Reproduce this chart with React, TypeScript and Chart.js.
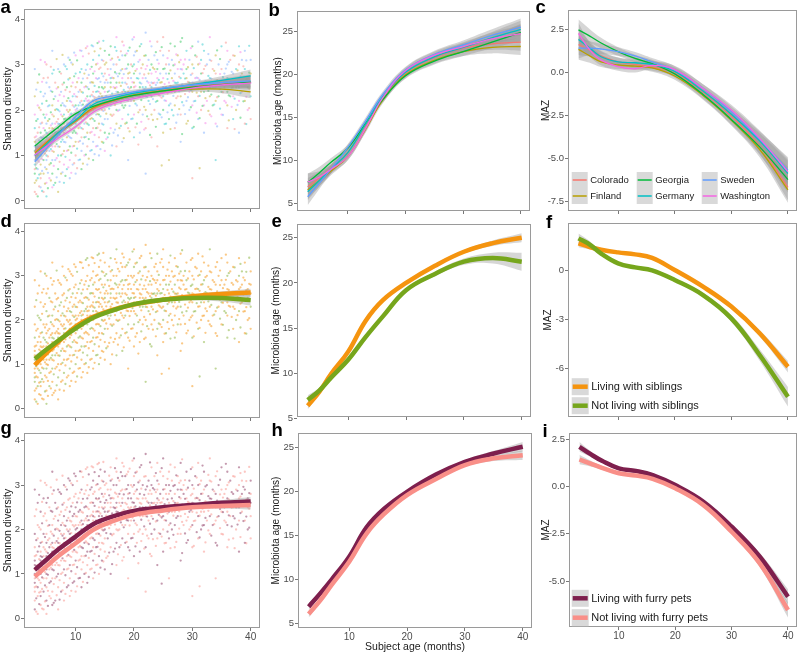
import React, { useEffect, useRef } from 'react';
import { Chart, registerables } from 'chart.js';
Chart.register(...registerables);

const FONT = '"Liberation Sans", Arial, Helvetica, sans-serif';

// ---------- DATA ----------
const ages = [3, 5, 7, 10, 13, 16, 20, 25, 30, 35, 40];
const xTickValues = [10, 20, 30, 40];

const countries = ['Colorado', 'Finland', 'Georgia', 'Germany', 'Sweden', 'Washington'];
const countryColors = ['#F8766D', '#B79F00', '#00BA38', '#00BFC4', '#619CFF', '#F564E3'];

const shannonColorado = [1.08, 1.3, 1.5, 1.75, 2.02, 2.18, 2.32, 2.43, 2.52, 2.57, 2.62];
const shannonFinland = [1.05, 1.28, 1.5, 1.76, 2.05, 2.2, 2.33, 2.42, 2.46, 2.46, 2.4];
const shannonGeorgia = [1.21, 1.42, 1.62, 1.92, 2.08, 2.2, 2.32, 2.42, 2.5, 2.56, 2.62];
const shannonGermany = [1.0, 1.25, 1.5, 1.78, 2.12, 2.25, 2.37, 2.47, 2.56, 2.65, 2.75];
const shannonSweden = [0.86, 1.15, 1.45, 1.85, 2.2, 2.3, 2.4, 2.48, 2.55, 2.6, 2.64];
const shannonWashington = [1.01, 1.2, 1.38, 1.63, 1.95, 2.12, 2.25, 2.37, 2.48, 2.55, 2.59];
const shannonCountryBand = [0.13, 0.08, 0.06, 0.05, 0.05, 0.05, 0.05, 0.05, 0.06, 0.09, 0.14];

const microColorado = [6.9, 7.9, 9.0, 10.9, 14.0, 17.2, 20.1, 21.9, 23.0, 23.5, 23.7];
const microFinland = [6.5, 7.6, 8.7, 10.4, 13.5, 16.9, 19.9, 21.6, 22.6, 23.1, 23.2];
const microGeorgia = [7.4, 8.5, 9.7, 11.4, 14.2, 17.0, 19.8, 21.5, 22.6, 23.7, 24.85];
const microGermany = [6.3, 7.6, 8.9, 10.9, 14.1, 17.3, 20.2, 22.0, 23.1, 24.2, 25.2];
const microSweden = [5.73, 7.3, 8.9, 11.5, 14.5, 17.6, 20.5, 22.3, 23.4, 24.5, 25.45];
const microWashington = [7.45, 8.0, 8.9, 10.4, 13.6, 17.2, 20.4, 22.2, 23.2, 24.1, 24.7];
const microCountryBand = [1.0, 0.7, 0.5, 0.4, 0.4, 0.35, 0.35, 0.4, 0.5, 0.7, 1.0];

const mazColorado = [1.6, 1.3, 0.95, 0.6, 0.45, 0.3, -0.05, -1.15, -2.55, -4.3, -6.7];
const mazFinland = [1.33, 0.95, 0.6, 0.42, 0.35, 0.25, -0.22, -1.35, -2.8, -4.5, -6.85];
const mazGeorgia = [2.46, 2.1, 1.7, 1.2, 0.8, 0.5, -0.1, -1.3, -2.75, -4.35, -6.25];
const mazGermany = [1.9, 1.4, 0.9, 0.6, 0.55, 0.45, 0.05, -1.1, -2.45, -4.0, -5.9];
const mazSweden = [1.4, 1.4, 1.35, 1.2, 0.95, 0.6, 0.13, -0.95, -2.3, -3.9, -5.7];
const mazWashington = [2.26, 1.3, 0.7, 0.33, 0.2, 0.4, 0.15, -0.95, -2.2, -3.85, -5.8];
const mazCountryBand = [0.6, 0.4, 0.3, 0.25, 0.22, 0.22, 0.22, 0.25, 0.3, 0.45, 0.75];

const siblingLabels = ['Living with siblings', 'Not living with siblings'];
const siblingColors = ['#F5940F', '#76A61C'];
const shannonSib = [0.98, 1.25, 1.5, 1.85, 2.07, 2.22, 2.35, 2.46, 2.54, 2.59, 2.62];
const shannonNoSib = [1.12, 1.33, 1.53, 1.81, 2.05, 2.2, 2.36, 2.46, 2.5, 2.5, 2.45];
const shannonSibBand = [0.06, 0.04, 0.03, 0.03, 0.03, 0.03, 0.03, 0.03, 0.04, 0.06, 0.09];
const shannonNoSibBand = [0.08, 0.05, 0.04, 0.03, 0.03, 0.03, 0.03, 0.04, 0.05, 0.08, 0.12];
const microSib = [6.42, 7.95, 9.9, 12.4, 15.8, 18.1, 20.0, 21.9, 23.45, 24.4, 25.0];
const microNoSib = [7.05, 8.1, 9.5, 11.5, 14.0, 16.3, 19.2, 21.0, 22.35, 22.75, 22.35];
const microSibBand = [0.4, 0.25, 0.2, 0.15, 0.15, 0.15, 0.15, 0.15, 0.2, 0.3, 0.5];
const microNoSibBand = [0.5, 0.3, 0.25, 0.2, 0.2, 0.2, 0.2, 0.25, 0.35, 0.6, 1.0];
const mazSib = [1.68, 1.45, 1.28, 1.12, 1.0, 0.78, 0.04, -0.98, -2.2, -3.83, -5.88];
const mazNoSib = [1.98, 1.6, 1.05, 0.45, 0.2, 0.02, -0.57, -1.49, -2.92, -5.16, -7.72];
const mazSibBand = [0.25, 0.15, 0.1, 0.08, 0.08, 0.08, 0.08, 0.1, 0.12, 0.2, 0.35];
const mazNoSibBand = [0.3, 0.2, 0.12, 0.1, 0.1, 0.1, 0.1, 0.12, 0.2, 0.35, 0.6];

const petLabels = ['Living with furry pets', 'Not living with furry pets'];
const petColors = ['#7E1F4D', '#F98F88'];
const shannonPet = [1.09, 1.32, 1.55, 1.84, 2.12, 2.28, 2.42, 2.5, 2.55, 2.6, 2.63];
const shannonNoPet = [0.94, 1.17, 1.4, 1.69, 1.99, 2.17, 2.33, 2.43, 2.5, 2.53, 2.55];
const shannonPetBand = [0.06, 0.04, 0.03, 0.03, 0.03, 0.03, 0.03, 0.03, 0.04, 0.06, 0.1];
const microPet = [6.89, 8.4, 10.0, 12.57, 15.9, 18.0, 19.95, 21.9, 23.36, 24.3, 25.07];
const microNoPet = [6.06, 7.6, 9.4, 12.0, 15.2, 17.4, 19.58, 21.4, 22.99, 23.75, 24.1];
const microPetBand = [0.4, 0.25, 0.2, 0.15, 0.15, 0.15, 0.15, 0.15, 0.2, 0.3, 0.55];
const mazPet = [2.09, 1.7, 1.35, 0.95, 0.82, 0.6, 0.07, -0.81, -2.13, -3.72, -5.83];
const mazNoPet = [1.42, 1.2, 0.98, 0.69, 0.57, 0.4, -0.1, -0.99, -2.4, -4.07, -6.53];
const mazPetBand = [0.25, 0.15, 0.1, 0.08, 0.08, 0.08, 0.08, 0.1, 0.12, 0.2, 0.4];

const shannonTicks = [0, 1, 2, 3, 4];
const microTicks = [5, 10, 15, 20, 25];
const mazTicksC = [2.5, 0, -2.5, -5, -7.5];
const mazTicksF = [0, -3, -6];
const mazTicksI = [2.5, 0, -2.5, -5];

// individual samples (subject age in months, Shannon diversity) — visit set 1
const scatterMonths = [
  3, 3.5, 4, 4.5, 5, 5.5, 6, 6.5, 7, 7.5, 8, 8.5, 9, 9.5, 10, 10.5, 11, 11.5, 12, 12.5,
  13, 13.5, 14, 14.5, 15, 15.5, 16, 16.5, 17, 17.5, 18, 18.5, 19, 19.5, 20, 20.5, 21, 21.5,
  22, 22.5, 23, 23.5, 24, 24.5, 25, 25.5, 26, 26.5, 27, 27.5, 28, 28.5, 29, 29.5, 30, 30.5,
  31, 31.5, 32, 32.5, 33, 33.5, 34, 34.5, 35, 35.5, 36, 36.5, 37, 37.5, 38, 38.5, 39, 39.5, 40,
];
const scatterShannon = [
  [0.2, 0.4, 0.6, 0.8, 0.9, 1.0, 1.1, 1.2, 1.4, 1.6, 1.9, 2.3, 2.9, 0.7, 1.3],
  [0.1, 0.5, 0.7, 0.9, 1.0, 1.2, 1.5, 1.8, 2.1, 2.6],
  [0.3, 0.5, 0.8, 1.0, 1.1, 1.2, 1.3, 1.5, 1.7, 2.0, 2.4, 3.1, 0.6, 1.4],
  [0.2, 0.6, 0.9, 1.1, 1.4, 1.6, 1.9, 2.3, 2.7],
  [0.1, 0.4, 0.7, 0.9, 1.1, 1.3, 1.4, 1.5, 1.7, 1.9, 2.2, 2.6, 3.0, 1.0],
  [0.5, 0.8, 1.1, 1.3, 1.6, 1.8, 2.1, 2.5],
  [0.3, 0.6, 0.9, 1.1, 1.3, 1.5, 1.6, 1.7, 1.9, 2.1, 2.4, 2.8, 3.3, 1.2],
  [0.4, 0.9, 1.2, 1.5, 1.7, 2.0, 2.3, 2.6],
  [0.2, 0.7, 1.0, 1.2, 1.4, 1.6, 1.7, 1.8, 2.0, 2.2, 2.5, 2.9, 1.5],
  [0.6, 1.0, 1.3, 1.6, 1.9, 2.1, 2.4, 2.8],
  [0.4, 0.8, 1.1, 1.3, 1.5, 1.7, 1.8, 1.9, 2.1, 2.3, 2.6, 3.0, 1.6],
  [0.7, 1.1, 1.4, 1.7, 2.0, 2.2, 2.5, 2.9],
  [0.5, 0.9, 1.2, 1.4, 1.6, 1.8, 1.9, 2.0, 2.2, 2.4, 2.7, 3.1, 1.7],
  [0.8, 1.2, 1.5, 1.8, 2.1, 2.3, 2.6, 3.0],
  [0.6, 1.0, 1.3, 1.5, 1.7, 1.9, 2.0, 2.1, 2.3, 2.5, 2.8, 3.2, 1.8],
  [0.9, 1.3, 1.6, 1.9, 2.1, 2.4, 2.7],
  [0.7, 1.1, 1.4, 1.6, 1.8, 2.0, 2.1, 2.2, 2.4, 2.6, 2.9, 3.3],
  [1.0, 1.4, 1.7, 2.0, 2.2, 2.5, 2.8],
  [0.8, 1.2, 1.5, 1.7, 1.9, 2.1, 2.2, 2.3, 2.5, 2.7, 3.0, 3.4, 2.0],
  [1.1, 1.5, 1.8, 2.1, 2.3, 2.6, 2.9],
  [0.9, 1.3, 1.6, 1.8, 2.0, 2.2, 2.3, 2.4, 2.6, 2.8, 3.1, 3.4],
  [1.2, 1.6, 1.9, 2.2, 2.4, 2.7, 3.0],
  [1.0, 1.4, 1.7, 1.9, 2.1, 2.3, 2.4, 2.5, 2.7, 2.9, 3.2, 3.5],
  [1.3, 1.7, 2.0, 2.3, 2.5, 2.8, 3.1],
  [1.1, 1.5, 1.8, 2.0, 2.2, 2.4, 2.5, 2.6, 2.8, 3.0, 3.3],
  [1.4, 1.8, 2.1, 2.4, 2.6, 2.9],
  [1.0, 1.6, 1.9, 2.1, 2.3, 2.5, 2.6, 2.7, 2.9, 3.1, 3.4],
  [1.5, 1.9, 2.2, 2.5, 2.7, 3.0],
  [1.2, 1.7, 2.0, 2.2, 2.4, 2.5, 2.6, 2.8, 3.0, 3.3, 3.6],
  [1.6, 2.0, 2.3, 2.6, 2.8, 3.1],
  [1.3, 1.8, 2.1, 2.3, 2.4, 2.6, 2.7, 2.9, 3.2, 3.5],
  [1.7, 2.1, 2.4, 2.6, 2.9, 3.2],
  [0.9, 1.6, 1.9, 2.2, 2.4, 2.5, 2.7, 2.8, 3.0, 3.3],
  [1.8, 2.2, 2.5, 2.7, 3.0],
  [1.4, 1.9, 2.2, 2.4, 2.5, 2.6, 2.8, 3.0, 3.2, 3.6],
  [1.7, 2.1, 2.4, 2.7, 2.9, 3.3],
  [1.5, 2.0, 2.3, 2.5, 2.6, 2.8, 3.1, 3.4],
  [1.9, 2.3, 2.5, 2.7, 3.0],
  [0.6, 1.6, 2.0, 2.3, 2.5, 2.7, 2.9, 3.2, 3.7],
  [1.8, 2.2, 2.6, 2.8, 3.1],
  [1.4, 1.9, 2.3, 2.5, 2.6, 2.8, 3.0, 3.4],
  [2.0, 2.4, 2.6, 2.9, 3.2],
  [1.2, 1.8, 2.2, 2.4, 2.6, 2.7, 2.9, 3.1, 3.5],
  [1.9, 2.3, 2.6, 2.8, 3.3],
  [1.5, 2.0, 2.3, 2.5, 2.7, 2.9, 3.2, 3.6],
  [1.7, 2.2, 2.5, 2.8, 3.0],
  [0.9, 1.8, 2.1, 2.4, 2.6, 2.8, 3.0, 3.3],
  [2.0, 2.4, 2.7, 3.1],
  [1.6, 2.1, 2.4, 2.6, 2.8, 3.0, 3.4],
  [1.9, 2.3, 2.6, 2.9, 3.2],
  [1.3, 1.9, 2.3, 2.5, 2.7, 2.9, 3.1, 3.5],
  [2.1, 2.5, 2.8, 3.0],
  [1.7, 2.2, 2.5, 2.7, 2.9, 3.3],
  [2.0, 2.4, 2.6, 3.1],
  [0.5, 1.6, 2.1, 2.4, 2.6, 2.8, 3.0, 3.4],
  [2.2, 2.5, 2.7, 3.2],
  [1.8, 2.3, 2.5, 2.7, 3.0, 3.5],
  [2.0, 2.4, 2.8, 3.1],
  [1.5, 2.1, 2.4, 2.6, 2.9, 3.3],
  [2.2, 2.6, 3.0],
  [1.9, 2.3, 2.5, 2.7, 3.1, 3.6],
  [2.1, 2.5, 2.9],
  [0.9, 1.7, 2.2, 2.5, 2.8, 3.2],
  [2.3, 2.6, 3.0],
  [1.9, 2.4, 2.6, 2.9, 3.4],
  [2.2, 2.5, 2.8],
  [1.6, 2.1, 2.4, 2.7, 3.0, 3.3],
  [2.3, 2.6, 3.1],
  [1.8, 2.3, 2.5, 2.8, 3.2],
  [2.0, 2.5, 2.9],
  [1.5, 2.2, 2.5, 2.7, 3.0, 3.4],
  [2.4, 2.8, 3.1],
  [1.7, 2.2, 2.6, 2.9, 3.3],
  [2.0, 2.5, 2.7],
  [1.8, 2.3, 2.6, 2.8, 3.1],
];
// visit set 2
const scatterMonths2 = [
  3.25, 3.75, 4.25, 4.75, 5.25, 5.75, 6.25, 6.75, 7.25, 7.75, 8.25, 8.75, 9.25, 9.75, 10.25, 10.75,
  11.25, 11.75, 12.25, 12.75, 13.25, 13.75, 14.25, 14.75, 15.25, 15.75, 16.25, 16.75, 17.25, 17.75,
  18.25, 18.75, 19.25, 19.75, 20.25, 20.75, 21.25, 21.75, 22.25, 22.75, 23.25, 23.75, 24.25, 24.75,
  25.25, 25.75, 26.25, 26.75, 27.25, 27.75, 28.25, 28.75, 29.25, 29.75, 30.25, 30.75, 31.25, 31.75,
  32.25, 32.75, 33.25, 33.75, 34.25, 34.75, 35.25, 35.75, 36.25, 36.75, 37.25, 37.75, 38.25, 38.75,
  39.25, 39.75,
];
const scatterShannon2 = [
  [0.15, 0.45, 0.72, 0.95, 1.18, 1.42, 1.76, 2.45],
  [0.32, 0.58, 0.86, 1.08, 1.33, 1.62, 2.05, 2.78],
  [0.22, 0.66, 0.92, 1.16, 1.38, 1.72, 2.14, 2.62],
  [0.38, 0.74, 1.04, 1.27, 1.55, 1.83, 2.36, 3.05],
  [0.28, 0.62, 0.98, 1.22, 1.47, 1.76, 2.08, 2.71],
  [0.45, 0.83, 1.14, 1.37, 1.66, 1.95, 2.42, 2.95],
  [0.35, 0.77, 1.08, 1.33, 1.58, 1.86, 2.24, 2.88],
  [0.52, 0.94, 1.25, 1.52, 1.74, 2.02, 2.47, 3.12],
  [0.42, 0.86, 1.19, 1.46, 1.69, 1.97, 2.33, 2.84],
  [0.63, 1.03, 1.35, 1.62, 1.86, 2.15, 2.56, 3.21],
  [0.55, 0.97, 1.29, 1.56, 1.81, 2.08, 2.44, 2.96],
  [0.74, 1.12, 1.43, 1.72, 1.96, 2.26, 2.67, 3.15],
  [0.62, 1.06, 1.38, 1.66, 1.92, 2.18, 2.52, 3.04],
  [0.83, 1.21, 1.54, 1.83, 2.07, 2.35, 2.74, 3.26],
  [0.72, 1.15, 1.48, 1.77, 2.03, 2.29, 2.61, 3.09],
  [0.91, 1.32, 1.63, 1.92, 2.16, 2.44, 2.83, 3.31],
  [0.82, 1.26, 1.58, 1.86, 2.12, 2.38, 2.69, 3.18],
  [1.02, 1.41, 1.73, 2.01, 2.25, 2.52, 2.88, 3.36],
  [0.93, 1.36, 1.67, 1.95, 2.21, 2.46, 2.77, 3.24],
  [1.12, 1.52, 1.82, 2.09, 2.33, 2.61, 2.95, 3.42],
  [1.03, 1.45, 1.76, 2.04, 2.28, 2.53, 2.85, 3.29],
  [1.21, 1.61, 1.91, 2.17, 2.41, 2.68, 3.02, 3.47],
  [1.14, 1.55, 1.86, 2.12, 2.36, 2.62, 2.93, 3.35],
  [1.28, 1.68, 1.98, 2.24, 2.47, 2.74, 3.08, 3.52],
  [1.36, 1.92, 2.31, 2.66, 3.04],
  [1.48, 2.03, 2.42, 2.77, 3.21],
  [1.22, 1.87, 2.36, 2.71, 3.13],
  [1.57, 2.11, 2.48, 2.83, 3.38],
  [1.44, 1.98, 2.39, 2.74, 3.16],
  [1.65, 2.16, 2.53, 2.87, 3.29],
  [1.38, 2.05, 2.44, 2.79, 3.42],
  [1.72, 2.21, 2.57, 2.91, 3.24],
  [1.53, 2.09, 2.47, 2.82, 3.37],
  [1.81, 2.27, 2.61, 2.96, 3.55],
  [1.62, 2.14, 2.52, 2.86, 3.28],
  [1.24, 1.95, 2.36, 2.69, 3.06],
  [1.74, 2.22, 2.58, 2.92, 3.45],
  [1.57, 2.07, 2.46, 2.78, 3.19],
  [1.86, 2.29, 2.63, 2.97],
  [1.45, 2.13, 2.54, 2.88, 3.51],
  [1.78, 2.24, 2.59, 2.93],
  [1.63, 2.18, 2.55, 2.84, 3.27],
  [1.92, 2.33, 2.66, 3.02],
  [0.78, 1.84, 2.27, 2.61, 3.38],
  [1.69, 2.21, 2.57, 2.91],
  [1.95, 2.36, 2.68, 3.14],
  [1.58, 2.14, 2.53, 2.87, 3.46],
  [1.88, 2.31, 2.64, 2.98],
  [1.72, 2.26, 2.59, 3.22],
  [2.02, 2.41, 2.73, 3.05],
  [1.47, 2.17, 2.56, 2.89, 3.58],
  [1.91, 2.35, 2.69, 3.11],
  [1.76, 2.28, 2.62, 2.94],
  [2.06, 2.44, 2.77, 3.36],
  [1.63, 2.19, 2.58, 2.92],
  [1.94, 2.38, 2.71, 3.17],
  [0.72, 1.82, 2.31, 2.66, 3.02],
  [2.09, 2.47, 2.81, 3.44],
  [1.71, 2.26, 2.63, 2.97],
  [1.98, 2.42, 2.75, 3.23],
  [1.86, 2.34, 2.69, 3.08],
  [2.12, 2.51, 2.86],
  [1.64, 2.28, 2.65, 3.31],
  [2.03, 2.46, 2.79, 3.12],
  [1.89, 2.39, 2.72],
  [2.16, 2.55, 2.91, 3.48],
  [1.77, 2.32, 2.68, 3.06],
  [2.07, 2.49, 2.84],
  [1.58, 2.25, 2.63, 3.19],
  [2.11, 2.52, 2.87],
  [1.83, 2.37, 2.74, 3.27],
  [2.19, 2.58, 2.96],
  [1.69, 2.29, 2.67, 3.09],
  [2.04, 2.47, 2.82, 3.41],
];

// ---------- HELPERS ----------
type Series = { label: string; color: string; values: number[]; band: number[] };
type LegendSpec = {
  x0: number; colStep: number; rowY: number[]; rows: number; box: number; lw: number; fontSize: number;
};
type PanelSpec = {
  cl: number; ct: number; cw: number; ch: number;
  yw: number; padTop: number; padRight: number; xh: number;
  yMin: number; yMax: number; yTicks: number[]; yDec: number;
  yTitle: string; yTitleSize: number; yTitlePad: number;
  showXLabels: boolean; xTitle?: string;
  series: Series[]; lineWidth: number;
  scatter?: { colors: string[]; pattern: number[]; radius: number };
  legend?: LegendSpec;
};

const X_MIN = 1.15;
const X_MAX = 41.6;
const BAND = 'rgba(153,153,153,0.4)';

function scatterFor(group: number, pattern: number[]) {
  const pts: { x: number; y: number }[] = [];
  let k = 0;
  const add = (months: number[], vals: number[][]) => {
    months.forEach((m, i) => {
      vals[i].forEach((v) => {
        if (pattern[k % pattern.length] === group) pts.push({ x: m, y: v });
        k++;
      });
    });
  };
  add(scatterMonths, scatterShannon);
  add(scatterMonths2, scatterShannon2);
  return pts;
}

function buildConfig(p: PanelSpec): any {
  const datasets: any[] = [];
  if (p.scatter) {
    p.scatter.colors.forEach((c, g) => {
      datasets.push({
        type: 'line', showLine: false, data: scatterFor(g, p.scatter!.pattern),
        pointRadius: p.scatter!.radius, pointBorderWidth: 0, pointBackgroundColor: c,
        borderColor: c, order: 1000 + g,
      });
    });
  }
  p.series.forEach((s, i) => {
    datasets.push({
      type: 'line', data: ages.map((a, j) => ({ x: a, y: s.values[j] - s.band[j] })),
      borderWidth: 0, pointRadius: 0, fill: false, tension: 0.4,
      order: 500 - i,
    });
    datasets.push({
      type: 'line', data: ages.map((a, j) => ({ x: a, y: s.values[j] + s.band[j] })),
      borderWidth: 0, pointRadius: 0, fill: '-1', backgroundColor: BAND,
      tension: 0.4, order: 500 - i,
    });
  });
  p.series.forEach((s, i) => {
    datasets.push({
      type: 'line', label: s.label, data: ages.map((a, j) => ({ x: a, y: s.values[j] })),
      borderColor: s.color, borderWidth: p.lineWidth, pointRadius: 0, fill: false,
      tension: 0.4, borderCapStyle: 'butt', order: 100 - i,
    });
  });

  const borderPlugin = {
    id: 'panelBorder',
    afterDatasetsDraw(chart: any) {
      const { ctx, chartArea: a } = chart;
      ctx.save();
      ctx.strokeStyle = '#9a9a9a';
      ctx.lineWidth = 1;
      ctx.strokeRect(a.left + 0.5, a.top + 0.5, a.right - a.left - 1, a.bottom - a.top - 1);
      ctx.restore();
    },
  };

  const legendPlugin = {
    id: 'panelLegend',
    afterDraw(chart: any) {
      const L = p.legend;
      if (!L) return;
      const { ctx, chartArea } = chart;
      ctx.save();
      p.series.forEach((s, i) => {
        const col = Math.floor(i / L.rows);
        const row = i % L.rows;
        const bx = chartArea.left + L.x0 + col * L.colStep;
        const cy = chartArea.bottom + L.rowY[row];
        ctx.fillStyle = '#d9d9d9';
        ctx.fillRect(bx, cy - L.box / 2, L.box, L.box);
        ctx.strokeStyle = s.color;
        ctx.lineWidth = L.lw;
        ctx.beginPath();
        ctx.moveTo(bx + 1, cy);
        ctx.lineTo(bx + L.box - 1, cy);
        ctx.stroke();
        ctx.fillStyle = '#1a1a1a';
        ctx.font = `${L.fontSize}px ${FONT}`;
        ctx.textBaseline = 'middle';
        ctx.textAlign = 'left';
        ctx.fillText(s.label, bx + L.box + 2.5, cy + 0.5);
      });
      ctx.restore();
    },
  };

  return {
    type: 'line',
    data: { datasets },
    plugins: [borderPlugin, legendPlugin],
    options: {
      responsive: false,
      maintainAspectRatio: false,
      devicePixelRatio: 1,
      animation: false,
      events: [],
      layout: { padding: { top: p.padTop, right: p.padRight, bottom: 0, left: 0 } },
      plugins: { legend: { display: false }, tooltip: { enabled: false }, title: { display: false } },
      scales: {
        x: {
          type: 'linear', min: X_MIN, max: X_MAX,
          afterBuildTicks: (sc: any) => { sc.ticks = xTickValues.map((v) => ({ value: v })); },
          afterFit: (sc: any) => { sc.height = p.xh; sc.paddingLeft = 0; sc.paddingRight = 0; },
          ticks: {
            display: p.showXLabels, padding: 0, color: '#4d4d4d', maxRotation: 0, autoSkip: false,
            font: { family: FONT, size: 10 },
            callback: (v: any) => String(v),
          },
          grid: { display: true, drawOnChartArea: false, drawTicks: true, tickLength: 3, color: '#555', lineWidth: 0.8 },
          border: { display: false },
          title: p.xTitle
            ? { display: true, text: p.xTitle, color: '#1a1a1a', font: { family: FONT, size: 10.5 }, padding: { top: 0, bottom: 1 } }
            : { display: false },
        },
        y: {
          type: 'linear', min: p.yMin, max: p.yMax,
          afterBuildTicks: (sc: any) => { sc.ticks = p.yTicks.map((v) => ({ value: v })); },
          afterFit: (sc: any) => { sc.width = p.yw; sc.paddingTop = 0; sc.paddingBottom = 0; },
          ticks: {
            padding: 1, color: '#4d4d4d', font: { family: FONT, size: 9.5 },
            callback: (v: any) => Number(v).toFixed(p.yDec),
          },
          grid: { display: true, drawOnChartArea: false, drawTicks: true, tickLength: 3, color: '#555', lineWidth: 0.8 },
          border: { display: false },
          title: {
            display: true, text: p.yTitle, color: '#1a1a1a',
            font: { family: FONT, size: p.yTitleSize }, padding: { top: p.yTitlePad, bottom: 0 },
          },
        },
      },
    },
  };
}

// ---------- PANELS ----------
const countrySeries = (vals: number[][], band: number[]): Series[] =>
  countries.map((c, i) => ({ label: c, color: countryColors[i], values: vals[i], band }));

const panels: PanelSpec[] = [
  { // a
    cl: 0, ct: 0, cw: 264, ch: 214, yw: 24, padTop: 9, padRight: 4, xh: 5,
    yMin: -0.176, yMax: 4.22, yTicks: shannonTicks, yDec: 0,
    yTitle: 'Shannon diversity', yTitleSize: 10.5, yTitlePad: 2.2, showXLabels: false,
    series: countrySeries([shannonColorado, shannonFinland, shannonGeorgia, shannonGermany, shannonSweden, shannonWashington], shannonCountryBand),
    lineWidth: 1.3,
    scatter: { colors: countryColors.map((c) => c + '66'), pattern: [0, 1, 2, 3, 4, 5, 2, 4, 0, 3, 5, 1, 4], radius: 1.15 },
  },
  { // b
    cl: 264, ct: 0, cw: 271, ch: 214, yw: 33, padTop: 11, padRight: 5, xh: 3,
    yMin: 4.07, yMax: 27.33, yTicks: microTicks, yDec: 0,
    yTitle: 'Microbiota age (months)', yTitleSize: 10, yTitlePad: 8, showXLabels: false,
    series: countrySeries([microColorado, microFinland, microGeorgia, microGermany, microSweden, microWashington], microCountryBand),
    lineWidth: 1.3,
  },
  { // c
    cl: 535, ct: 0, cw: 265, ch: 214, yw: 33, padTop: 10, padRight: 3, xh: 3,
    yMin: -8.08, yMax: 3.62, yTicks: mazTicksC, yDec: 1,
    yTitle: 'MAZ', yTitleSize: 10, yTitlePad: 5, showXLabels: false,
    series: countrySeries([mazColorado, mazFinland, mazGeorgia, mazGermany, mazSweden, mazWashington], mazCountryBand),
    lineWidth: 1.3,
    legend: { x0: 3.7, colStep: 65, rowY: [-31, -15], rows: 2, box: 16, lw: 1.5, fontSize: 9.5 },
  },
  { // d
    cl: 0, ct: 214, cw: 264, ch: 214, yw: 24, padTop: 9, padRight: 4, xh: 10,
    yMin: -0.22, yMax: 4.197, yTicks: shannonTicks, yDec: 0,
    yTitle: 'Shannon diversity', yTitleSize: 10.5, yTitlePad: 2.2, showXLabels: false,
    series: [
      { label: siblingLabels[0], color: siblingColors[0], values: shannonSib, band: shannonSibBand },
      { label: siblingLabels[1], color: siblingColors[1], values: shannonNoSib, band: shannonNoSibBand },
    ],
    lineWidth: 4.5,
    scatter: { colors: ['rgba(245,148,15,0.5)', 'rgba(118,166,28,0.45)'], pattern: [0, 0, 1, 0, 0, 0, 1], radius: 1.15 },
  },
  { // e
    cl: 264, ct: 214, cw: 271, ch: 214, yw: 33, padTop: 10, padRight: 4, xh: 11,
    yMin: 5.17, yMax: 26.52, yTicks: microTicks, yDec: 0,
    yTitle: 'Microbiota age (months)', yTitleSize: 10, yTitlePad: 6, showXLabels: false,
    series: [
      { label: siblingLabels[0], color: siblingColors[0], values: microSib, band: microSibBand },
      { label: siblingLabels[1], color: siblingColors[1], values: microNoSib, band: microNoSibBand },
    ],
    lineWidth: 4.5,
  },
  { // f
    cl: 535, ct: 214, cw: 265, ch: 214, yw: 33, padTop: 9, padRight: 3, xh: 11,
    yMin: -8.96, yMax: 2.92, yTicks: mazTicksF, yDec: 0,
    yTitle: 'MAZ', yTitleSize: 10, yTitlePad: 7, showXLabels: false,
    series: [
      { label: siblingLabels[0], color: siblingColors[0], values: mazSib, band: mazSibBand },
      { label: siblingLabels[1], color: siblingColors[1], values: mazNoSib, band: mazNoSibBand },
    ],
    lineWidth: 4.5,
    legend: { x0: 3.7, colStep: 0, rowY: [-30.3, -11.3], rows: 2, box: 17, lw: 4.5, fontSize: 11 },
  },
  { // g
    cl: 0, ct: 428, cw: 264, ch: 226, yw: 24, padTop: 5, padRight: 4, xh: 26,
    yMin: -0.218, yMax: 4.173, yTicks: shannonTicks, yDec: 0,
    yTitle: 'Shannon diversity', yTitleSize: 10.5, yTitlePad: 2, showXLabels: true,
    series: [
      { label: petLabels[0], color: petColors[0], values: shannonPet, band: shannonPetBand },
      { label: petLabels[1], color: petColors[1], values: shannonNoPet, band: shannonPetBand },
    ],
    lineWidth: 4.5,
    scatter: { colors: ['rgba(126,31,77,0.45)', 'rgba(249,143,136,0.5)'], pattern: [0, 1, 1, 0, 1, 0, 1], radius: 1.15 },
  },
  { // h
    cl: 264, ct: 428, cw: 271, ch: 226, yw: 34, padTop: 5, padRight: 3, xh: 26,
    yMin: 4.47, yMax: 26.63, yTicks: microTicks, yDec: 0,
    yTitle: 'Microbiota age (months)', yTitleSize: 10, yTitlePad: 6, showXLabels: true,
    xTitle: 'Subject age (months)',
    series: [
      { label: petLabels[0], color: petColors[0], values: microPet, band: microPetBand },
      { label: petLabels[1], color: petColors[1], values: microNoPet, band: microPetBand },
    ],
    lineWidth: 4.5,
  },
  { // i
    cl: 535, ct: 428, cw: 265, ch: 226, yw: 34, padTop: 5, padRight: 3, xh: 27,
    yMin: -7.43, yMax: 2.82, yTicks: mazTicksI, yDec: 1,
    yTitle: 'MAZ', yTitleSize: 10, yTitlePad: 5, showXLabels: true,
    series: [
      { label: petLabels[0], color: petColors[0], values: mazPet, band: mazPetBand },
      { label: petLabels[1], color: petColors[1], values: mazNoPet, band: mazPetBand },
    ],
    lineWidth: 4.5,
    legend: { x0: 2.7, colStep: 0, rowY: [-28.7, -9.3], rows: 2, box: 17, lw: 4.5, fontSize: 11 },
  },
];

const panelLetters = [
  { t: 'a', left: 0.5, top: -2.2 },
  { t: 'b', left: 268.5, top: 1.3 },
  { t: 'c', left: 535.5, top: -1.7 },
  { t: 'd', left: 0.5, top: 212.3 },
  { t: 'e', left: 271.5, top: 212.3 },
  { t: 'f', left: 546, top: 213.3 },
  { t: 'g', left: 0.5, top: 419.3 },
  { t: 'h', left: 271.5, top: 421.3 },
  { t: 'i', left: 542.5, top: 422.3 },
];

function Panel({ spec }: { spec: PanelSpec }) {
  const ref = useRef<HTMLCanvasElement>(null);
  useEffect(() => {
    const chart = new Chart(ref.current as HTMLCanvasElement, buildConfig(spec));
    return () => chart.destroy();
  }, [spec]);
  return (
    <canvas
      ref={ref}
      width={spec.cw}
      height={spec.ch}
      style={{ position: 'absolute', left: spec.cl, top: spec.ct, width: spec.cw, height: spec.ch }}
    />
  );
}

export default function App() {
  return (
    <div style={{ position: 'absolute', left: 0, top: 0, width: 800, height: 654, background: '#fff', overflow: 'hidden' }}>
      {panels.map((p, i) => (
        <Panel key={i} spec={p} />
      ))}
      {panelLetters.map((l) => (
        <div
          key={l.t}
          style={{
            position: 'absolute', left: l.left, top: l.top, fontFamily: FONT, fontWeight: 'bold',
            fontSize: 18.5, lineHeight: 1, color: '#000',
          }}
        >
          {l.t}
        </div>
      ))}
    </div>
  );
}
